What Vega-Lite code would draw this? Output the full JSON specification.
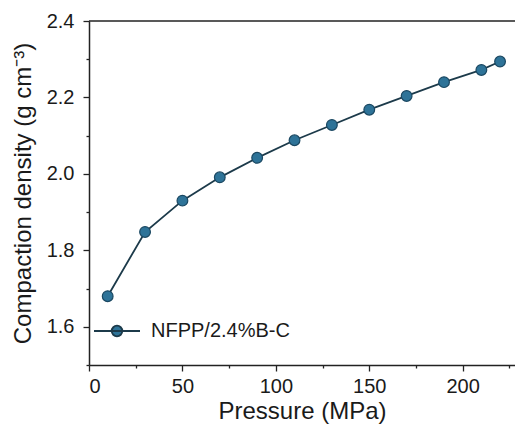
{
  "$schema": "https://vega.github.io/schema/vega-lite/v6.json",
  "autosize": {"type": "none"},
  "padding": {"left": 89, "top": 21, "right": 0, "bottom": 63},
  "width": 426,
  "height": 344,
  "background": "white",
  "config": {
    "view": {"stroke": null},
    "font": "Liberation Sans",
    "axis": {
      "domainColor": "#222222",
      "domainWidth": 1.5,
      "tickColor": "#222222",
      "tickWidth": 1.3,
      "grid": false,
      "labelFont": "Liberation Sans",
      "labelFontSize": 20,
      "labelColor": "#1a1a1a",
      "labelOverlap": false,
      "titleFont": "Liberation Sans",
      "titleFontSize": 24,
      "titleFontWeight": "normal",
      "titleColor": "#1a1a1a"
    }
  },
  "data": {
    "values": [
      {"pressure": 10, "density": 1.680, "series": "NFPP/2.4%B-C"},
      {"pressure": 30, "density": 1.848, "series": "NFPP/2.4%B-C"},
      {"pressure": 50, "density": 1.930, "series": "NFPP/2.4%B-C"},
      {"pressure": 70, "density": 1.991, "series": "NFPP/2.4%B-C"},
      {"pressure": 90, "density": 2.042, "series": "NFPP/2.4%B-C"},
      {"pressure": 110, "density": 2.088, "series": "NFPP/2.4%B-C"},
      {"pressure": 130, "density": 2.128, "series": "NFPP/2.4%B-C"},
      {"pressure": 150, "density": 2.168, "series": "NFPP/2.4%B-C"},
      {"pressure": 170, "density": 2.204, "series": "NFPP/2.4%B-C"},
      {"pressure": 190, "density": 2.240, "series": "NFPP/2.4%B-C"},
      {"pressure": 210, "density": 2.272, "series": "NFPP/2.4%B-C"},
      {"pressure": 220, "density": 2.294, "series": "NFPP/2.4%B-C"}
    ]
  },
  "resolve": {"axis": {"x": "independent", "y": "independent"}},
  "layer": [
    {
      "mark": {"type": "line", "color": "#1c3a4a", "strokeWidth": 1.8, "clip": false},
      "encoding": {
        "x": {
          "field": "pressure", "type": "quantitative",
          "scale": {"domain": [0, 228], "nice": false, "zero": false},
          "axis": {
            "orient": "bottom",
            "title": "Pressure (MPa)",
            "values": [0, 50, 100, 150, 200],
            "tickSize": 6,
            "labelPadding": 5,
            "titlePadding": 3
          }
        },
        "y": {
          "field": "density", "type": "quantitative",
          "scale": {"domain": [1.5, 2.4], "nice": false, "zero": false},
          "axis": {
            "orient": "left",
            "title": "Compaction density (g cm⁻³)",
            "values": [1.6, 1.8, 2.0, 2.2, 2.4],
            "format": ".1f",
            "tickSize": 6,
            "labelPadding": 9,
            "titlePadding": 11
          }
        }
      }
    },
    {
      "mark": {"type": "rule", "color": "#222222", "strokeWidth": 1.5},
      "data": {"values": [{"y": 2.4}]},
      "encoding": {
        "y": {"field": "y", "type": "quantitative", "axis": null}
      }
    },
    {
      "mark": {"type": "point", "filled": true, "size": 115, "stroke": "#1b4862", "strokeWidth": 1.2, "opacity": 1},
      "encoding": {
        "x": {
          "field": "pressure", "type": "quantitative",
          "axis": {"orient": "bottom", "values": [25, 75, 125, 175, 225], "labels": false, "domain": false, "title": null, "tickSize": 3}
        },
        "y": {
          "field": "density", "type": "quantitative",
          "axis": {"orient": "left", "values": [1.5, 1.7, 1.9, 2.1, 2.3], "labels": false, "domain": false, "title": null, "tickSize": 3}
        },
        "color": {
          "field": "series", "type": "nominal",
          "scale": {"range": ["#2e7398"]},
          "legend": {
            "title": null,
            "orient": "none",
            "legendX": 4,
            "legendY": 286,
            "padding": 0,
            "symbolType": "M-1,0H1M-0.23,0A0.23,0.23 0 1 1 0.23,0A0.23,0.23 0 1 1 -0.23,0Z",
            "symbolSize": 2116,
            "symbolStrokeColor": "#1c3a4a",
            "symbolStrokeWidth": 1.8,
            "symbolFillColor": "#2e7398",
            "labelFontSize": 20,
            "labelFont": "Liberation Sans",
            "labelColor": "#1a1a1a",
            "labelOffset": 10
          }
        }
      }
    }
  ]
}
